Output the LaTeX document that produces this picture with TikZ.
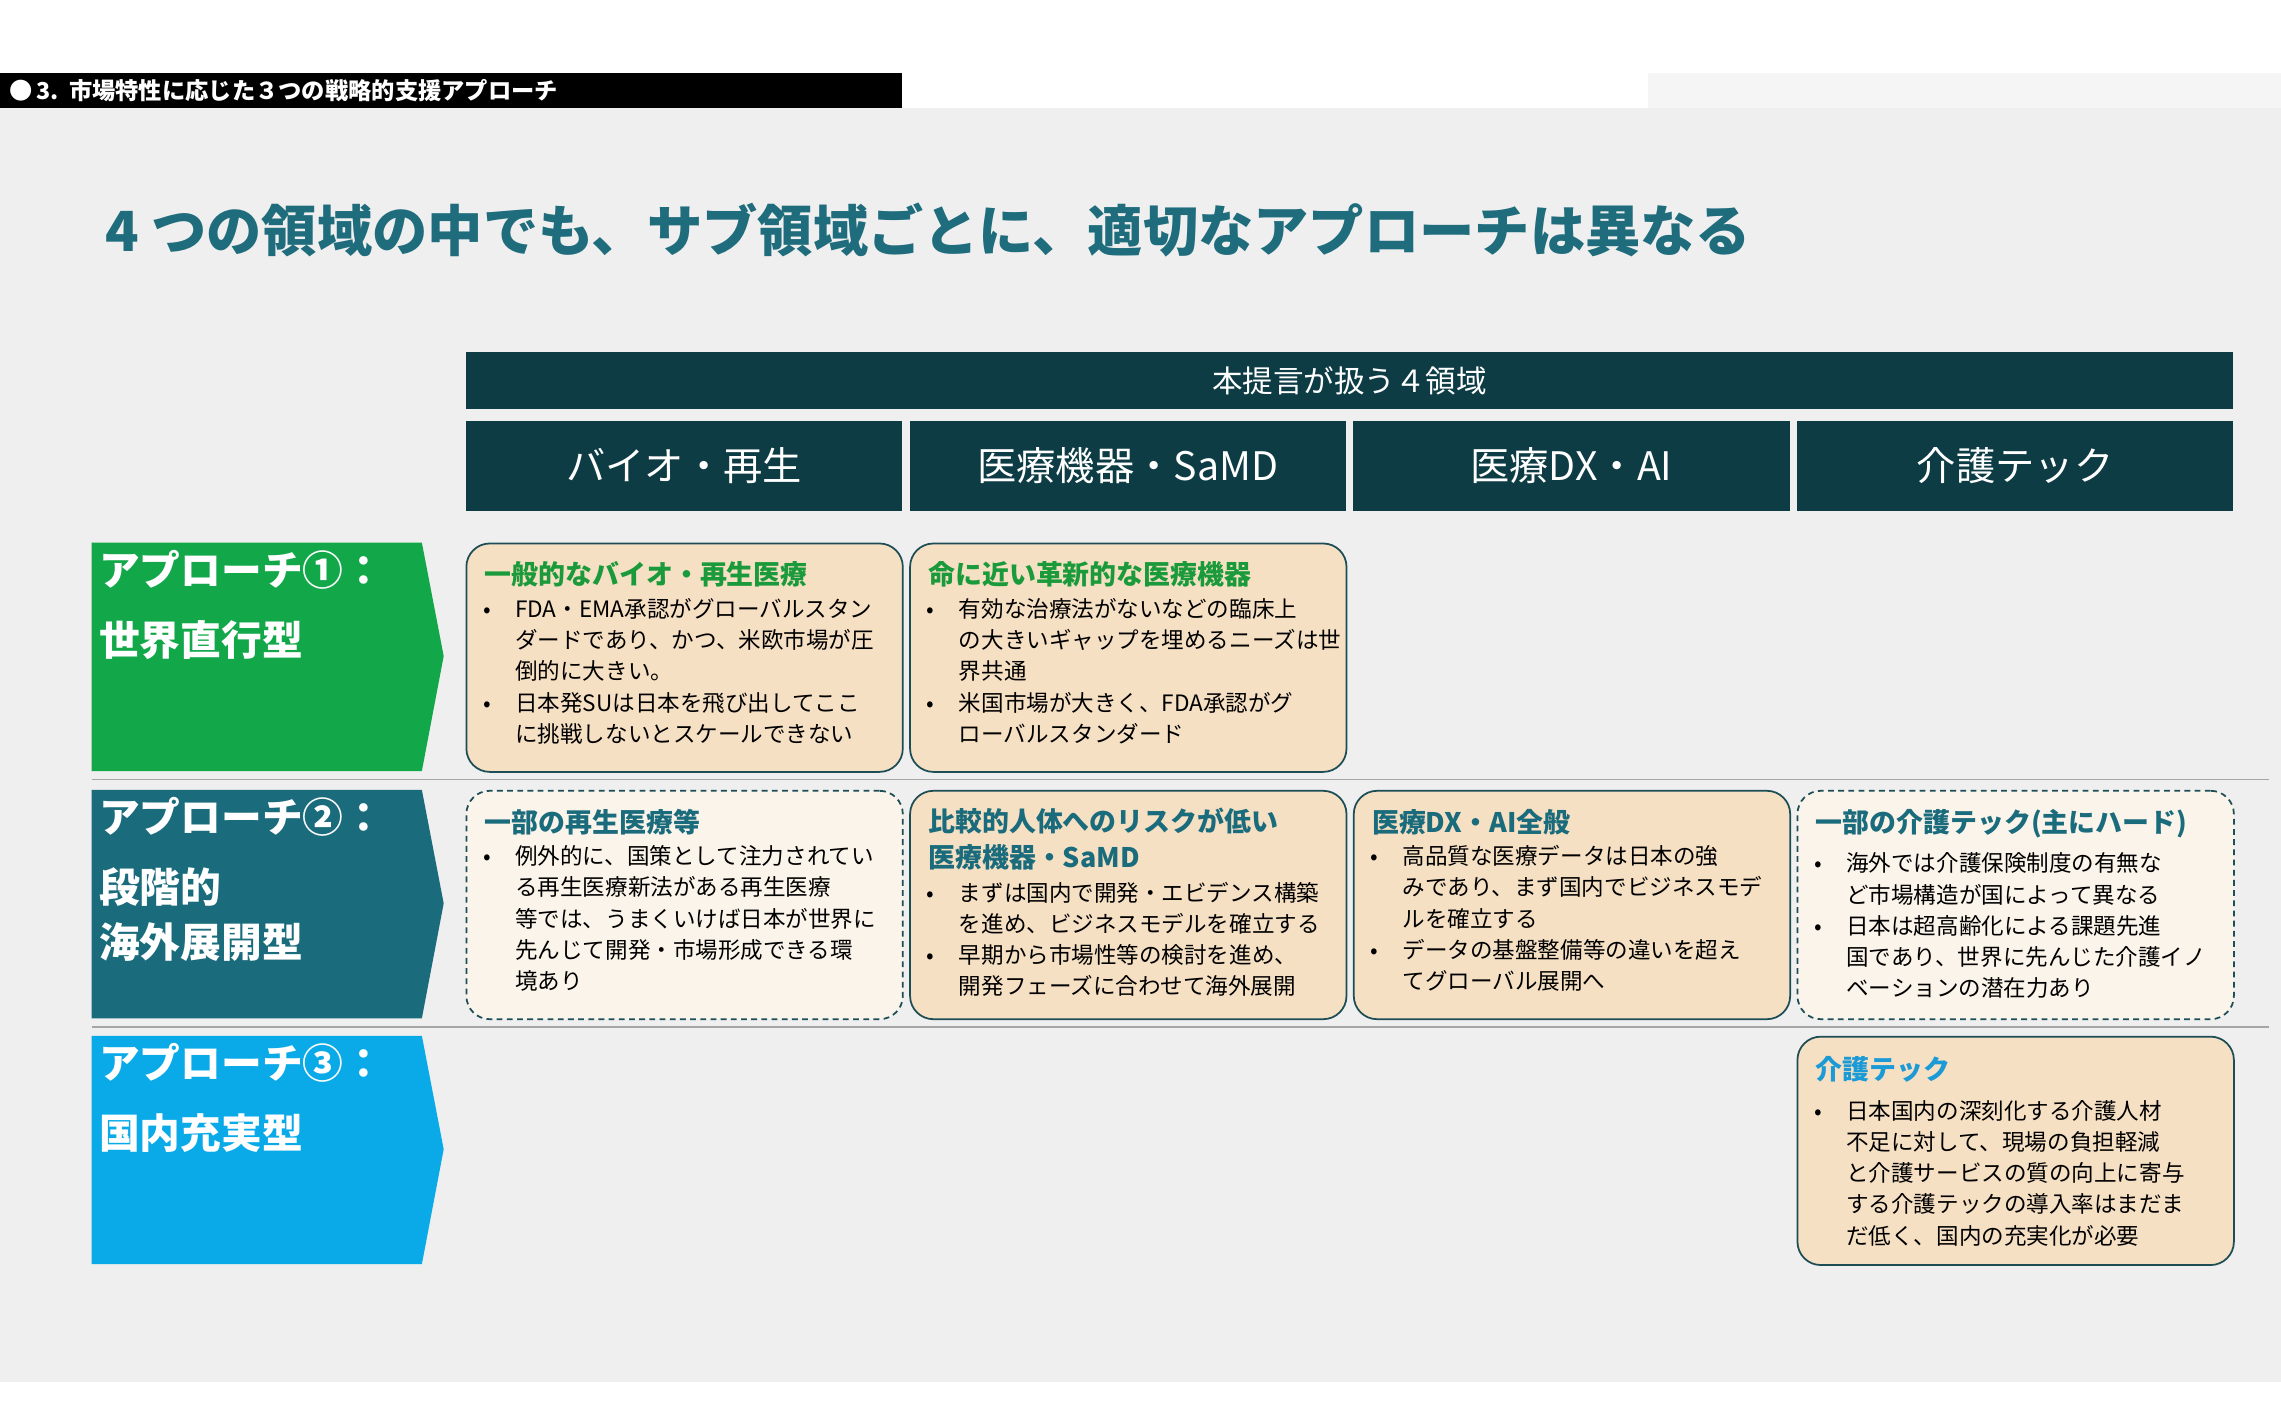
\documentclass[tikz,border=0pt]{standalone}
\usepackage{fontspec}
\setmainfont{Noto Sans CJK JP}
\usetikzlibrary{positioning}
\definecolor{bgg}{HTML}{EFEFEF}
\definecolor{navy}{HTML}{0D3C45}
\definecolor{ttl}{HTML}{1E6C7C}
\definecolor{gA}{HTML}{12A84A}
\definecolor{gB}{HTML}{1A6B7C}
\definecolor{gC}{HTML}{0AAAE8}
\definecolor{peach}{HTML}{F6E0C4}
\definecolor{cream}{HTML}{FBF4EA}
\definecolor{bord}{HTML}{1D4D55}
\definecolor{tgreen}{HTML}{1A9A3A}
\definecolor{tteal}{HTML}{1A6B7C}
\definecolor{tblue}{HTML}{1C9AD6}
\newcommand\bu{\makebox[22pt][l]{•}}
\newcommand\ind{\hspace*{22pt}}
\tikzset{
 box/.style={draw=bord,line width=1.2pt,rounded corners=16pt,fill=peach,minimum width=300pt,minimum height=157pt,anchor=north west},
 dbox/.style={box,fill=cream,dashed,dash pattern=on 4pt off 3pt},
 btxt/.style={anchor=north west,align=left,font=\fontsize{15.5}{21.5}\selectfont,text=black,inner sep=0pt},
 bttl/.style={anchor=north west,font=\fontsize{18.5}{25}\selectfont\bfseries,inner sep=0pt},
 colh/.style={fill=navy,minimum width=300pt,minimum height=62pt,anchor=north west,text=white,font=\fontsize{27}{30}\selectfont,inner sep=0pt},
 lab/.style={anchor=north west,text=white,align=left,font=\fontsize{28}{48}\selectfont\bfseries,inner sep=0pt},
}
\begin{document}
\begin{tikzpicture}[x=1pt,y=-1pt]
\useasboundingbox (0,0) rectangle (1568,970);
\fill[white] (0,0) rectangle (1568,970);
\fill[bgg] (0,74) rectangle (1568,950);
\fill[bgg!60!white] (1133,50) rectangle (1568,74);
\fill[black] (0,50) rectangle (620,74);
\node[anchor=west,text=white,inner sep=0pt,font=\fontsize{16}{18}\selectfont\bfseries] (hdr) at (6,62) {●\,3.\ \ 市場特性に応じた３つの戦略的支援アプローチ};
\node[anchor=west,text=ttl,inner sep=0pt,font=\fontsize{38}{42}\selectfont\bfseries] (title) at (72,158) {4 つの領域の中でも、サブ領域ごとに、適切なアプローチは異なる};
\node[fill=navy,minimum width=1215pt,minimum height=39pt,anchor=north west,text=white,font=\fontsize{21}{24}\selectfont,inner sep=0pt] (top) at (320,242) {本提言が扱う４領域};
\node[colh] (c1) at (320,289) {バイオ・再生};
\node[colh] (c2) at (625,289) {医療機器・SaMD};
\node[colh] (c3) at (930,289) {医療DX・AI};
\node[colh] (c4) at (1235,289) {介護テック};
\draw[gray!70,line width=1pt] (63,536) -- (1560,536);
\draw[gray!70,line width=1pt] (63,706) -- (1560,706);
\fill[gA] (63,373) -- (290,373) -- (305,451) -- (290,530) -- (63,530) -- cycle;
\fill[gB] (63,543) -- (290,543) -- (305,621) -- (290,700) -- (63,700) -- cycle;
\fill[gC] (63,712) -- (290,712) -- (305,790) -- (290,869) -- (63,869) -- cycle;
\node[lab] (l1) at (68,378) {アプローチ①：\\世界直行型};
\node[lab] (l2) at (68,548) {アプローチ②：\\段階的\\[-10pt]海外展開型};
\node[lab] (l3) at (68,717) {アプローチ③：\\国内充実型};
\node[box] (b11) at (320,373) {};
\node[bttl,text=tgreen] at (333,386) {一般的なバイオ・再生医療};
\node[btxt] at (332,411) {\bu FDA・EMA承認がグローバルスタン\\\ind ダードであり、かつ、米欧市場が圧\\\ind 倒的に大きい。\\\bu 日本発SUは日本を飛び出してここ\\\ind に挑戦しないとスケールできない};
\node[box] (b12) at (625,373) {};
\node[bttl,text=tgreen] at (638,386) {命に近い革新的な医療機器};
\node[btxt] at (637,411) {\bu 有効な治療法がないなどの臨床上\\\ind の大きいギャップを埋めるニーズは世\\\ind 界共通\\\bu 米国市場が大きく、FDA承認がグ\\\ind ローバルスタンダード};
\node[dbox] (b21) at (320,543) {};
\node[bttl,text=tteal] at (333,556) {一部の再生医療等};
\node[btxt] at (332,581) {\bu 例外的に、国策として注力されてい\\\ind る再生医療新法がある再生医療\\\ind 等では、うまくいけば日本が世界に\\\ind 先んじて開発・市場形成できる環\\\ind 境あり};
\node[box] (b22) at (625,543) {};
\node[bttl,text=tteal,align=left] at (638,555) {比較的人体へのリスクが低い\\医療機器・SaMD};
\node[btxt] at (637,606) {\bu まずは国内で開発・エビデンス構築\\\ind を進め、ビジネスモデルを確立する\\\bu 早期から市場性等の検討を進め、\\\ind 開発フェーズに合わせて海外展開};
\node[box] (b23) at (930,543) {};
\node[bttl,text=tteal] at (943,556) {医療DX・AI全般};
\node[btxt] at (942,581) {\bu 高品質な医療データは日本の強\\\ind みであり、まず国内でビジネスモデ\\\ind ルを確立する\\\bu データの基盤整備等の違いを超え\\\ind てグローバル展開へ};
\node[dbox] (b24) at (1235,543) {};
\node[bttl,text=tteal] at (1248,556) {一部の介護テック(主にハード)};
\node[btxt] at (1247,586) {\bu 海外では介護保険制度の有無な\\\ind ど市場構造が国によって異なる\\\bu 日本は超高齢化による課題先進\\\ind 国であり、世界に先んじた介護イノ\\\ind ベーションの潜在力あり};
\node[box] (b34) at (1235,712) {};
\node[bttl,text=tblue] at (1248,726) {介護テック};
\node[btxt] at (1247,756) {\bu 日本国内の深刻化する介護人材\\\ind 不足に対して、現場の負担軽減\\\ind と介護サービスの質の向上に寄与\\\ind する介護テックの導入率はまだま\\\ind だ低く、国内の充実化が必要};
\end{tikzpicture}
\end{document}
